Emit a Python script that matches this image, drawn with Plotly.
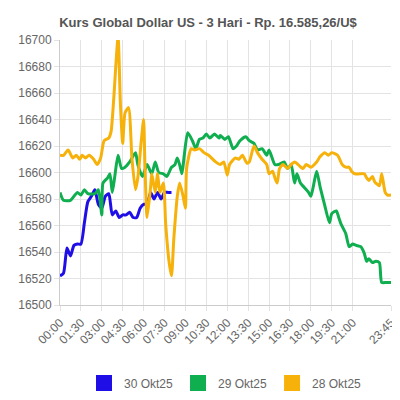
import pandas as pd
import plotly.graph_objects as go

BASE = "2025-10-30 "

time_30 = ["00:00", "00:15", "00:30", "00:45", "01:00", "01:15", "01:30", "01:45", "02:00", "02:15",
           "02:30", "02:45", "03:00", "03:15", "03:30", "03:45", "04:00", "04:15", "04:30", "04:45",
           "05:00", "05:15", "05:30", "05:45", "06:00", "06:15", "06:30", "06:45", "07:00", "07:15",
           "07:30", "07:45", "08:00"]
kurs_30 = [16522, 16524, 16543, 16537, 16545, 16546, 16546, 16562, 16578, 16582,
           16587, 16576, 16573, 16582, 16584, 16568, 16571, 16566, 16568, 16568,
           16570, 16566, 16566, 16573, 16576, 16576, 16585, 16580, 16585, 16580,
           16585, 16585, 16585]

time_29 = ["00:00", "00:15", "00:45", "01:00", "01:15", "01:30", "01:45", "02:00", "02:30", "02:45",
           "03:00", "03:05", "03:25", "03:35", "03:45", "03:55", "04:10", "04:25", "04:40", "05:00",
           "05:25", "05:35", "05:55", "06:15", "06:35", "06:50", "07:05", "07:25", "07:40", "08:00",
           "08:15", "08:25", "08:35", "08:45", "08:55", "09:10", "09:30", "09:45", "10:00", "10:15",
           "10:30", "10:45", "11:05", "11:25", "11:30", "11:50", "12:05", "12:25", "12:40", "12:55",
           "13:20", "13:35", "13:55", "14:10", "14:30", "14:50", "15:00", "15:25", "15:40", "16:05",
           "16:20", "16:35", "16:50", "17:00", "17:15", "17:30", "17:50", "18:00", "18:10", "18:25",
           "18:40", "19:00", "19:20", "19:30", "19:50", "20:00", "20:10", "20:30", "20:45", "21:00",
           "21:15", "21:35", "21:50", "22:00", "22:10", "22:25", "22:40", "22:55", "23:05", "23:25",
           "23:45"]
kurs_29 = [16585, 16579, 16579, 16582, 16585, 16583, 16587, 16584, 16584, 16587,
           16568, 16592, 16596, 16599, 16585, 16596, 16613, 16603, 16604, 16608,
           16615, 16606, 16597, 16606, 16599, 16608, 16600, 16599, 16597, 16604,
           16606, 16611, 16606, 16599, 16613, 16630, 16624, 16618, 16625, 16626,
           16629, 16626, 16629, 16626, 16628, 16625, 16627, 16618, 16620, 16624,
           16627, 16624, 16622, 16617, 16618, 16613, 16617, 16606, 16606, 16608,
           16603, 16606, 16592, 16599, 16592, 16589, 16585, 16582, 16589, 16601,
           16589, 16575, 16562, 16569, 16571, 16566, 16561, 16554, 16544, 16546,
           16545, 16544, 16539, 16533, 16535, 16532, 16533, 16532, 16517, 16517,
           16517]

time_28 = ["00:00", "00:15", "00:35", "00:55", "01:10", "01:25", "01:35", "01:50", "02:05", "02:25",
           "02:40", "02:55", "03:10", "03:30", "03:40", "03:50", "04:10", "04:20", "04:30", "04:40",
           "04:55", "05:10", "05:25", "05:35", "05:50", "06:00", "06:05", "06:15", "06:30", "06:35",
           "06:50", "07:00", "07:10", "07:25", "07:35", "07:50", "08:00", "08:10", "08:25", "08:35",
           "08:50", "09:00", "09:05", "09:25", "09:40", "10:00", "10:20", "10:40", "11:10", "11:30",
           "11:45", "12:00", "12:10", "12:35", "12:50", "13:05", "13:25", "13:35", "13:55", "14:10",
           "14:30", "14:50", "15:00", "15:15", "15:25", "15:35", "15:45", "16:00", "16:20", "16:35",
           "16:50", "17:05", "17:25", "17:40", "18:00", "18:25", "18:40", "19:00", "19:15", "19:30",
           "19:55", "20:15", "20:30", "20:45", "20:55", "21:10", "21:30", "21:50", "22:00", "22:10",
           "22:25", "22:35", "22:55", "23:05", "23:20", "23:30", "23:45"]
kurs_28 = [16613, 16613, 16617, 16611, 16613, 16610, 16613, 16611, 16613, 16610,
           16606, 16611, 16624, 16626, 16631, 16652, 16702, 16652, 16622, 16645,
           16649, 16610, 16587, 16596, 16624, 16640, 16610, 16566, 16589, 16599,
           16585, 16599, 16585, 16592, 16561, 16532, 16522, 16550, 16582, 16592,
           16582, 16573, 16603, 16618, 16617, 16618, 16615, 16613, 16608, 16606,
           16608, 16598, 16606, 16611, 16610, 16613, 16607, 16608, 16620, 16615,
           16610, 16606, 16599, 16601, 16596, 16592, 16603, 16606, 16603, 16606,
           16608, 16606, 16603, 16606, 16604, 16608, 16612, 16615, 16613, 16615,
           16613, 16606, 16604, 16604, 16601, 16599, 16599, 16599, 16596, 16594,
           16597, 16593, 16590, 16599, 16585, 16583, 16583]

series = [
    ("30 Okt25", time_30, kurs_30, "#1f0ee6"),
    ("29 Okt25", time_29, kurs_29, "#0fae4f"),
    ("28 Okt25", time_28, kurs_28, "#f6b10a"),
]

fig = go.Figure()
for name, times, vals, color in series:
    fig.add_trace(go.Scatter(
        x=pd.to_datetime([BASE + t for t in times]),
        y=vals,
        name=name,
        mode="lines",
        showlegend=False,
        line=dict(color=color, width=3, shape="spline", smoothing=0.6),
    ))
# square swatches for the legend
for name, times, vals, color in series:
    fig.add_trace(go.Scatter(
        x=[None], y=[None], name=name, mode="markers",
        marker=dict(symbol="square", size=16, color=color),
    ))

fig.update_layout(
    width=400,
    height=400,
    margin=dict(l=42, r=10, t=32, b=84),
    paper_bgcolor="white",
    plot_bgcolor="white",
    font=dict(family="Liberation Sans, Arial", size=12, color="#666"),
    title=dict(text="<b>Kurs Global Dollar US - 3 Hari - Rp. 16.585,26/U$</b>",
               x=0.5, y=0.975, xanchor="center", font=dict(size=13, color="#555")),
    legend=dict(orientation="h", x=0.5, xanchor="center", y=-0.24, yanchor="top",
                font=dict(size=12, color="#666")),
    xaxis=dict(
        range=[pd.Timestamp(BASE + "00:00"), pd.Timestamp(BASE + "23:45")],
        tickformat="%H:%M",
        tickvals=pd.date_range(BASE + "00:00", periods=16, freq="90min").tolist()[:15]
        + [pd.Timestamp(BASE + "23:45")],
        tickangle=-45,
        showgrid=True, gridcolor="#e3e3e3",
        showline=True, linecolor="#ccc",
        ticks="outside", tickcolor="#e3e3e3", ticklen=5,
    ),
    yaxis=dict(
        range=[16500, 16700],
        dtick=20,
        tickformat="d",
        showgrid=True, gridcolor="#e3e3e3",
        showline=True, linecolor="#ccc",
        ticks="outside", tickcolor="#e3e3e3", ticklen=5,
    ),
)

fig.write_html("out.html")
